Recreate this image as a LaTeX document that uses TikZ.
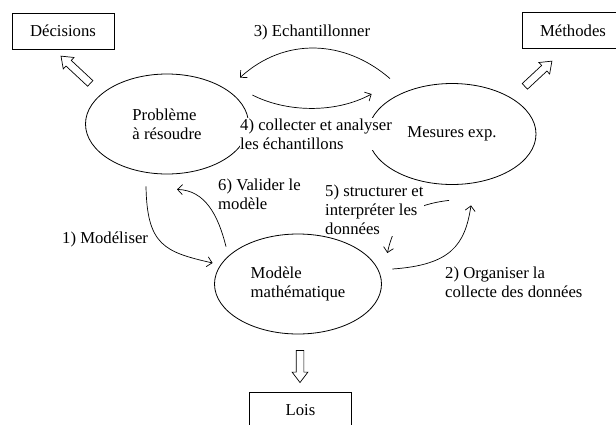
\documentclass[tikz,border=0pt]{standalone}
\usepackage{fontspec}
\setmainfont{Liberation Serif}
\usetikzlibrary{arrows.meta,calc,shapes.geometric,shapes.arrows}

\begin{document}
\begin{tikzpicture}[x=1pt,y=-1pt,
    font=\fontsize{16.7}{19}\selectfont,
    phase/.style={draw, ellipse, line width=0.8pt, inner sep=0pt, align=left},
    outcome/.style={draw, line width=0.8pt, minimum width=102pt, minimum height=36pt, inner sep=0pt},
    bigarrow/.style={draw, single arrow, line width=0.7pt, inner xsep=0pt, inner ysep=3.5pt,
      single arrow head extend=4pt, single arrow tip angle=74, single arrow head indent=0pt},
    flow/.style={-{Straight Barb[length=5pt,width=10pt]}, line width=0.7pt},
    steplabel/.style={fill=white, inner xsep=0pt, inner ysep=1pt, align=left, anchor=west}
  ]
  \useasboundingbox (0,0) rectangle (616,424);

  \node[phase, minimum width=163pt, minimum height=100pt] (prob) at (167,124) {Problème\\à résoudre};
  \node[phase, minimum width=168pt, minimum height=101pt] (mes) at (452,134) {Mesures exp.};
  \node[phase, minimum width=167pt, minimum height=100pt] (mod) at (298,284) {Modèle\\mathématique};

  \node[outcome] (dec) at (63,31) {Décisions};
  \node[outcome] (meth) at (573,30.5) {Méthodes};
  \node[outcome] (lois) at (300.5,410) {Lois};

  \node[bigarrow, minimum height=40pt, rotate=137] (decArrow) at (77.5,71.5) {};
  \node[bigarrow, minimum height=37pt, rotate=43] (methArrow) at (536.5,75.5) {};
  \node[bigarrow, minimum height=32pt, rotate=-90] (loisArrow) at (300,364) {};

  \draw[flow] ($(prob.south)+(-21,12)$) .. controls +(1,59) and +(-48,-11) .. ($(mod.west)+(-1.5,-21)$);
  \draw[flow] ($(mod.north)+(-72,13)$) .. controls +(-8,-32) and +(28,1) .. ($(prob.south)+(10,15)$);
  \draw[flow] ($(mes.north)+(-62,-4.5)$) .. controls +(-45,-39) and +(45,-41) .. ($(prob.north)+(73,4)$);
  \draw[flow] ($(prob.east)+(3.5,-29)$) .. controls +(33,17) and +(-37,20) .. ($(mes.west)+(4,-40)$);
  \draw[flow] ($(mes.south)+(-3,15.5)$) .. controls +(-34,4) and +(8,-38) .. ($(mod.east)+(5.5,-31)$);
  \draw[flow] ($(mod.east)+(10.5,-15)$) .. controls +(58,-4) and +(-6,40) .. ($(mes.south)+(19,20.5)$);

  \node[steplabel, anchor=center] (lab3) at (312,32) {3) Echantillonner};
  \node[steplabel] (lab4) at (240,134) {4) collecter et analyser\\les échantillons};
  \node[steplabel] (lab6) at (218,194) {6) Valider le\\modèle};
  \node[steplabel] (lab5) at (325,210) {5) structurer et\\interpréter les\\données};
  \node[steplabel] (lab1) at (62,239) {1) Modéliser};
  \node[steplabel] (lab2) at (445,282) {2) Organiser la\\collecte des données};
\end{tikzpicture}
\end{document}
